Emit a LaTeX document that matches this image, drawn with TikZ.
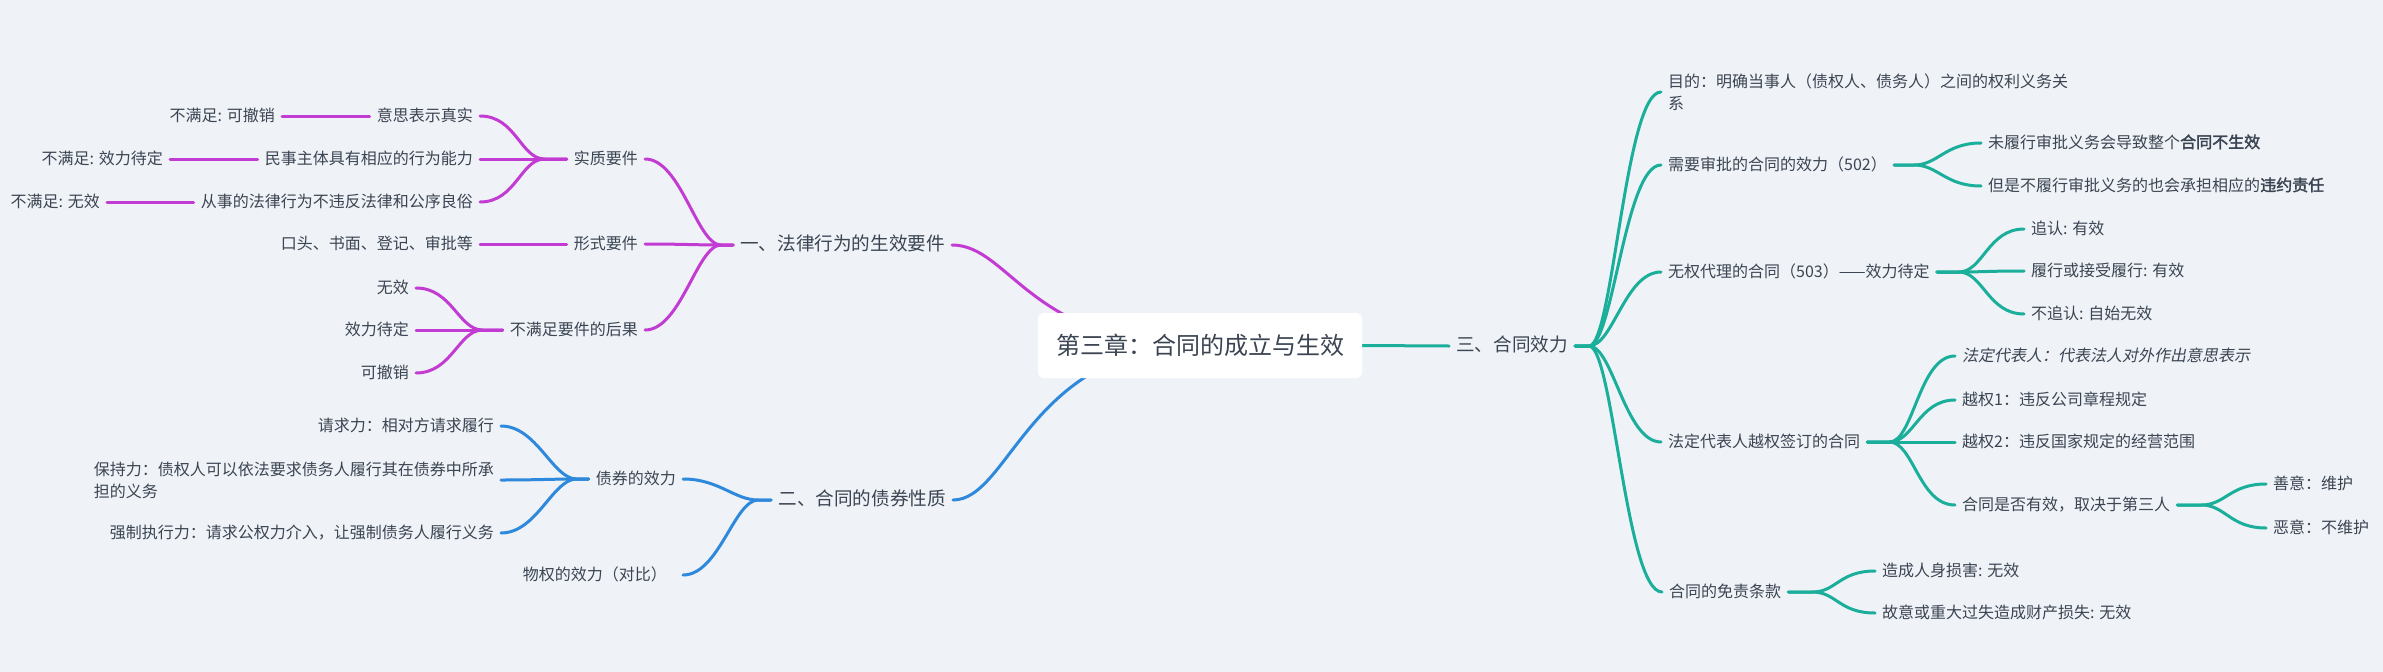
\documentclass[tikz,border=0pt]{standalone}
\usepackage{fontspec}
\setmainfont{Noto Sans CJK SC}[AutoFakeSlant=0.2,AutoFakeBold=2]
\usepackage{tikz}

\definecolor{paper}{HTML}{EFF3F7}
\definecolor{ink}{HTML}{3B4452}
\definecolor{lawline}{HTML}{C23BD3}
\definecolor{debtline}{HTML}{2E88DC}
\definecolor{effline}{HTML}{1AAE9B}

\pgfdeclarelayer{back}
\pgfdeclarelayer{edges}
\pgfsetlayers{back,edges,main}

\tikzset{
  topic/.style={
    font=\fontsize{16}{22}\selectfont,
    text=ink,
    inner xsep=7pt,
    inner ysep=2pt,
    text height=13pt,
    text depth=3pt
  },
  note/.style={
    font=\fontsize{16}{22}\selectfont,
    text=ink,
    inner xsep=7pt,
    inner ysep=2pt,
    align=left
  },
  major/.style={
    topic,
    font=\fontsize{18.6}{22}\selectfont,
    text height=15pt,
    text depth=4pt
  },
  root/.style={
    fill=white,
    rounded corners=5pt,
    minimum width=324pt,
    minimum height=65pt,
    font=\fontsize{24}{28}\selectfont,
    text=ink
  },
  limb/.style={line width=3pt, line cap=round},
  rtwig/.style={to path={-- ++(#1,0) .. controls +(24,0) and +(-36,0) .. (\tikztotarget)}},
  ltwig/.style={to path={-- ++(-#1,0) .. controls +(-24,0) and +(36,0) .. (\tikztotarget)}}
}

\begin{document}
\begin{tikzpicture}[x=1pt,y=-1pt]
  \begin{pgfonlayer}{back}
    \fill[paper] (0,0) rectangle (2383,672);
  \end{pgfonlayer}
  \useasboundingbox (0,0) rectangle (2383,672);

  \node[root] (root) at (1200,345.5) {第三章：合同的成立与生效};

  % 一、法律行为的生效要件
  \node[major, anchor=east] (yi) at (952,245) {一、法律行为的生效要件};
  \node[topic, anchor=east] (sz) at (645,159) {实质要件};
  \node[topic, anchor=east] (xs) at (645,244) {形式要件};
  \node[topic, anchor=east] (hg) at (645,330) {不满足要件的后果};
  \node[topic, anchor=east] (sz1) at (480,116) {意思表示真实};
  \node[topic, anchor=east] (sz2) at (480,159) {民事主体具有相应的行为能力};
  \node[topic, anchor=east] (sz3) at (480,202) {从事的法律行为不违反法律和公序良俗};
  \node[topic, anchor=east] (l1) at (282,116) {不满足: 可撤销};
  \node[topic, anchor=east] (l2) at (170,159) {不满足: 效力待定};
  \node[topic, anchor=east] (l3) at (107,202) {不满足: 无效};
  \node[topic, anchor=east] (xs1) at (480,244) {口头、书面、登记、审批等};
  \node[topic, anchor=east] (hg1) at (416,288) {无效};
  \node[topic, anchor=east] (hg2) at (416,330) {效力待定};
  \node[topic, anchor=east] (hg3) at (416,373) {可撤销};

  % 二、合同的债券性质
  \node[major, anchor=east] (er) at (953,500) {二、合同的债券性质};
  \node[topic, anchor=east] (zq) at (683,479) {债券的效力};
  \node[topic, anchor=east, inner xsep=16pt] (wu) at (683,575) {物权的效力（对比）};
  \node[topic, anchor=east] (zq1) at (501,426) {请求力：相对方请求履行};
  \node[note, anchor=east] (zq2) at (501,480) {保持力：债权人可以依法要求债务人履行其在债券中所承\\担的义务};
  \node[topic, anchor=east] (zq3) at (501,533) {强制执行力：请求公权力介入，让强制债务人履行义务};

  % 三、合同效力
  \node[major, anchor=west] (san) at (1449,346) {三、合同效力};
  \node[note, anchor=west] (mudi) at (1661,92) {目的：明确当事人（债权人、债务人）之间的权利义务关\\系};
  \node[topic, anchor=west] (xy) at (1661,165) {需要审批的合同的效力（502）};
  \node[topic, anchor=west] (xy1) at (1981,143) {未履行审批义务会导致整个\textbf{合同不生效}};
  \node[topic, anchor=west] (xy2) at (1981,186) {但是不履行审批义务的也会承担相应的\textbf{违约责任}};
  \node[topic, anchor=west] (wq) at (1661,272) {无权代理的合同（503）——效力待定};
  \node[topic, anchor=west] (wq1) at (2024,229) {追认: 有效};
  \node[topic, anchor=west] (wq2) at (2024,271) {履行或接受履行: 有效};
  \node[topic, anchor=west] (wq3) at (2024,314) {不追认: 自始无效};
  \node[topic, anchor=west] (fd) at (1661,442) {法定代表人越权签订的合同};
  \node[topic, anchor=west] (fd1) at (1955,356) {\itshape 法定代表人：代表法人对外作出意思表示};
  \node[topic, anchor=west] (fd2) at (1955,400) {越权1：违反公司章程规定};
  \node[topic, anchor=west] (fd3) at (1955,442) {越权2：违反国家规定的经营范围};
  \node[topic, anchor=west] (fd4) at (1955,505) {合同是否有效，取决于第三人};
  \node[topic, anchor=west] (sf1) at (2266,484) {善意：维护};
  \node[topic, anchor=west] (sf2) at (2266,528) {恶意：不维护};
  \node[topic, anchor=west] (mz) at (1662,592) {合同的免责条款};
  \node[topic, anchor=west] (mz1) at (1875,571) {造成人身损害: 无效};
  \node[topic, anchor=west] (mz2) at (1875,613) {故意或重大过失造成财产损失: 无效};

  \begin{pgfonlayer}{edges}
    \begin{scope}[limb, color=lawline]
      \draw (yi.east) .. controls +(58,0) and +(-170,0) .. (root.center);
      \foreach \c in {sz,xs,hg} \draw (yi.west) to[ltwig=12] (\c.east);
      \foreach \c in {sz1,sz2,sz3} \draw (sz.west) to[ltwig=22] (\c.east);
      \draw (sz1.west) -- (l1.east);
      \draw (sz2.west) -- (l2.east);
      \draw (sz3.west) -- (l3.east);
      \draw (xs.west) -- (xs1.east);
      \foreach \c in {hg1,hg2,hg3} \draw (hg.west) to[ltwig=20] (\c.east);
    \end{scope}
    \begin{scope}[limb, color=debtline]
      \draw (er.east) .. controls +(57,0) and +(-170,0) .. (root.center);
      \foreach \c in {zq,wu} \draw (er.west) to[ltwig=13] (\c.east);
      \foreach \c in {zq1,zq2,zq3} \draw (zq.west) to[ltwig=12] (\c.east);
    \end{scope}
    \begin{scope}[limb, color=effline]
      \draw (root.east) -- (san.west);
      \foreach \c in {mudi,xy,wq,fd,mz} \draw (san.east) to[rtwig=14] (\c.west);
      \foreach \c in {xy1,xy2} \draw (xy.east) to[rtwig=20] (\c.west);
      \foreach \c in {wq1,wq2,wq3} \draw (wq.east) to[rtwig=22] (\c.west);
      \foreach \c in {fd1,fd2,fd3,fd4} \draw (fd.east) to[rtwig=22] (\c.west);
      \foreach \c in {sf1,sf2} \draw (fd4.east) to[rtwig=24] (\c.west);
      \foreach \c in {mz1,mz2} \draw (mz.east) to[rtwig=24] (\c.west);
    \end{scope}
  \end{pgfonlayer}
\end{tikzpicture}
\end{document}
